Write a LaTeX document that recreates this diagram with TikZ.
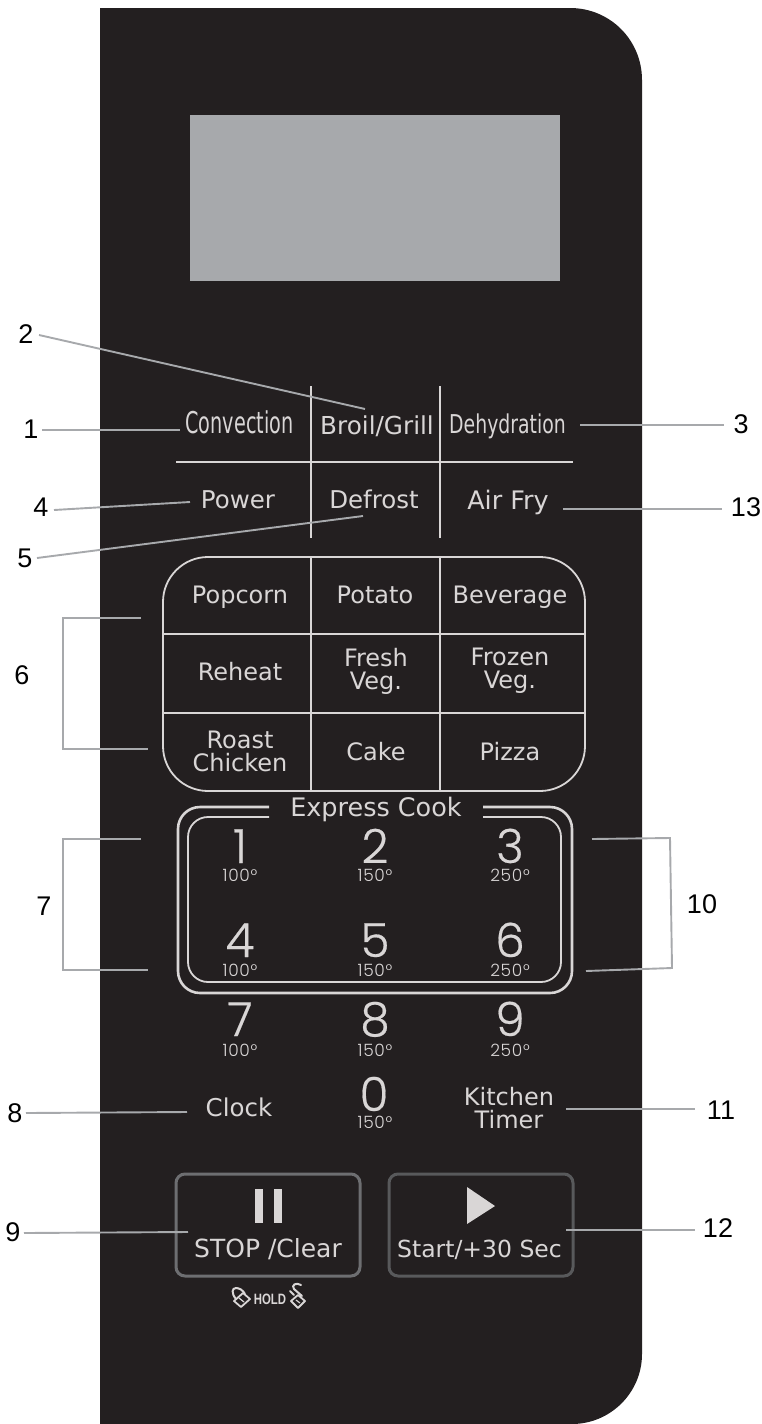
\documentclass[tikz,border=0pt]{standalone}
\usepackage{fontspec}
\usepackage{graphicx}
\setmainfont{DejaVu Sans}
\newfontfamily\arialfont{Liberation Sans}
\newfontfamily\digitfont[FakeBold=0.4]{Poppins Light}
\newfontfamily\degfont[LetterSpace=4]{Poppins Light}
\definecolor{panel}{HTML}{231F20}
\definecolor{lcd}{HTML}{A7A9AC}
\definecolor{ink}{HTML}{D9D6D6}
\definecolor{callout}{HTML}{A7A9AC}
\definecolor{btnA}{HTML}{6D6E71}
\definecolor{btnB}{HTML}{58595B}
\tikzset{
  x=1pt,y=-1pt,
  keytext/.style={text=ink,inner sep=0pt,align=center,font=\fontsize{24}{23}\selectfont},
  keybase/.style={keytext,anchor=base},
  numtext/.style={text=black,inner sep=0pt,font=\arialfont\fontsize{27}{27}\selectfont},
  bigdigit/.style={text=ink,inner sep=0pt,font=\digitfont\fontsize{47}{47}\selectfont},
  smalldeg/.style={text=ink,inner sep=0pt,font=\degfont\fontsize{17}{17}\selectfont},
  gridline/.style={draw=ink,line width=1.8pt},
  calloutline/.style={draw=callout,line width=1.9pt},
  expressline/.style={draw=ink,line width=2.6pt},
  expressthin/.style={draw=ink,line width=1.8pt},
}
\begin{document}
\begin{tikzpicture}
\useasboundingbox (0,0) rectangle (762,1424);
% panel
\fill[panel] (100,8) -- (570,8) .. controls (610,8) and (642,40) .. (642,80) -- (642,1354) .. controls (642,1393) and (610,1424) .. (572,1424) -- (100,1424) -- cycle;
\fill[lcd] (190,115) rectangle (560,281);
% top grid
\draw[gridline] (311,386) -- (311,538);
\draw[gridline] (440,386) -- (440,538);
\draw[gridline] (176,462) -- (573,462);
% programme box
\draw[gridline,rounded corners=45pt] (163,557) rectangle (585,791);
\draw[gridline] (311,557) -- (311,791);
\draw[gridline] (440,557) -- (440,791);
\draw[gridline] (163,634) -- (585,634);
\draw[gridline] (163,713) -- (585,713);
% express frames
\draw[expressline,rounded corners=22pt] (269,807) -- (178,807) -- (178,993) -- (572,993) -- (572,807) -- (483,807);
\draw[expressthin,rounded corners=20pt] (269,817) -- (188,817) -- (188,982) -- (561,982) -- (561,817) -- (483,817);
% key texts
\node[keybase] (convection) at (239.5,433) {\scalebox{0.80}[1.25]{Convection}};
\node[keybase,font=\fontsize{24.7}{25}\selectfont] (broil) at (377,434) {Broil/Grill};
\node[keybase] (dehydration) at (507.5,433) {\scalebox{0.785}[1.08]{Dehydration}};
\node[keybase,font=\fontsize{24.5}{24}\selectfont] (power) at (238,508) {Power};
\node[keybase,font=\fontsize{24.5}{24}\selectfont] (defrost) at (374,508) {Defrost};
\node[keybase,font=\fontsize{25.5}{24}\selectfont] (airfry) at (508,509) {Air Fry};
\node[keybase] (popcorn) at (240,603) {Popcorn};
\node[keybase] (potato) at (375,603) {Potato};
\node[keybase] (beverage) at (510,603) {Beverage};
\node[keybase] (reheat) at (240,680) {Reheat};
\node[keytext] (freshveg) at (376,671) {Fresh\\Veg.};
\node[keytext] (frozenveg) at (510,671) {Frozen\\Veg.};
\node[keytext] (roast) at (240,751) {Roast\\Chicken};
\node[keybase] (cake) at (376,760) {Cake};
\node[keybase] (pizza) at (510,760) {Pizza};
\node[keybase,font=\fontsize{25.5}{25}\selectfont] (express) at (376,816) {Express Cook};
% digits
\foreach \nm/\dg/\xx/\yy in {
  a/1/240/851,b/2/375/851,c/3/510/851,
  d/4/240/945,e/5/375/945,f/6/510/945,
  g/7/240/1024,h/8/375/1024,i/9/510/1024,
  j/0/374/1099}{
  \node[bigdigit,text height=24pt,text depth=0pt] (dig\nm) at (\xx,\yy) {\dg};
}
\foreach \nm/\dt/\xx/\yy in {
  a/100/240/877,b/150/375/877,c/250/510/877,
  d/100/240/971.5,e/150/375/971.5,f/250/510/971.5,
  g/100/240/1051.5,h/150/375/1051.5,i/250/510/1051.5,
  j/150/375/1124}{
  \node[smalldeg,text height=9pt,text depth=0pt] (deg\nm) at (\xx,\yy) {\dt°};
}
\node[keybase,font=\fontsize{24.5}{24}\selectfont] (clock) at (239,1116) {Clock};
\node[keytext] (timer) at (509,1108) {Kitchen\\Timer};
% buttons
\draw[btnA,line width=3pt,rounded corners=9pt] (176,1174) rectangle (360,1276);
\draw[btnB,line width=3pt,rounded corners=9pt] (389,1174) rectangle (573,1276);
\fill[ink] (255,1189) rectangle (262.5,1223);
\fill[ink] (274,1189) rectangle (281.5,1223);
\fill[ink] (467,1187) -- (467,1224) -- (495,1206) -- cycle;
\node[keybase,font=\fontsize{25}{25}\selectfont] (stop) at (268,1257) {STOP /Clear};
\node[keybase,font=\fontsize{23.5}{24}\selectfont] (start) at (479.5,1257) {Start/+30 Sec};
% hold
\node[text=ink,inner sep=0pt,font=\arialfont\bfseries\fontsize{15}{15}\selectfont] (hold) at (270,1299.5) {\scalebox{0.76}[1]{HOLD}};
% closed lock
\draw[ink,line width=1.8pt,line join=round] (243,1293) -- (250,1299) -- (241,1307) -- (234,1301) -- cycle;
\draw[ink,line width=2pt] (236,1299) .. controls (231,1293) and (232,1288) .. (236,1288) .. controls (239,1288) and (243,1290) .. (245,1294);
\draw[ink,line width=1.2pt] (239,1298) -- (244,1302);
% open lock
\draw[ink,line width=1.8pt,line join=round] (298,1295) -- (305,1301) -- (298,1308) -- (291,1301) -- cycle;
\draw[ink,line width=1.2pt] (296,1300) -- (300,1303);
\draw[ink,line width=2pt,line cap=round] (302,1296) -- (294,1289) .. controls (291,1285) and (296,1282) .. (301,1285);
\draw[ink,line width=2pt,line cap=round] (294,1295) -- (290,1291);
% callout numbers
\node[numtext] (n2) at (26,334) {2};
\node[numtext] (n1) at (31,429) {1};
\node[numtext] (n3) at (741,424) {3};
\node[numtext] (n4) at (41,507) {4};
\node[numtext] (n13) at (746,507) {13};
\node[numtext] (n5) at (25,558) {5};
\node[numtext] (n6) at (22,675) {6};
\node[numtext] (n7) at (44,906) {7};
\node[numtext] (n10) at (702,904) {10};
\node[numtext] (n8) at (15,1113) {8};
\node[numtext] (n11) at (721,1110) {11};
\node[numtext] (n9) at (13,1232) {9};
\node[numtext] (n12) at (718,1228) {12};
% callout line ends
\coordinate (c2a) at (39,335); \coordinate (c2b) at (365,409);
\coordinate (c1a) at (42,430); \coordinate (c1b) at (180,430);
\coordinate (c3a) at (580,425); \coordinate (c3b) at (724,425);
\coordinate (c4a) at (54,510); \coordinate (c4b) at (190,502);
\coordinate (c5a) at (37,558); \coordinate (c5b) at (363,516);
\coordinate (c13a) at (563,509); \coordinate (c13b) at (722,509);
\coordinate (c8a) at (26,1113); \coordinate (c8b) at (187,1112);
\coordinate (c11a) at (566,1109); \coordinate (c11b) at (695,1109);
\coordinate (c9a) at (24,1233); \coordinate (c9b) at (188,1232);
\coordinate (c12a) at (566,1230); \coordinate (c12b) at (695,1230);
\foreach \k in {2,1,3,4,5,13,8,11,9,12}{\draw[calloutline] (c\k a) -- (c\k b);}
\coordinate (b6a) at (141,618); \coordinate (b6b) at (63,618); \coordinate (b6c) at (63,749); \coordinate (b6d) at (148,749);
\coordinate (b7a) at (141,839); \coordinate (b7b) at (63,839); \coordinate (b7c) at (63,970); \coordinate (b7d) at (148,970);
\coordinate (b10a) at (592,839); \coordinate (b10b) at (670,838); \coordinate (b10c) at (672,968); \coordinate (b10d) at (586,971);
\draw[calloutline] (b6a) -- (b6b) -- (b6c) -- (b6d);
\draw[calloutline] (b7a) -- (b7b) -- (b7c) -- (b7d);
\draw[calloutline] (b10a) -- (b10b) -- (b10c) -- (b10d);
\end{tikzpicture}
\end{document}
